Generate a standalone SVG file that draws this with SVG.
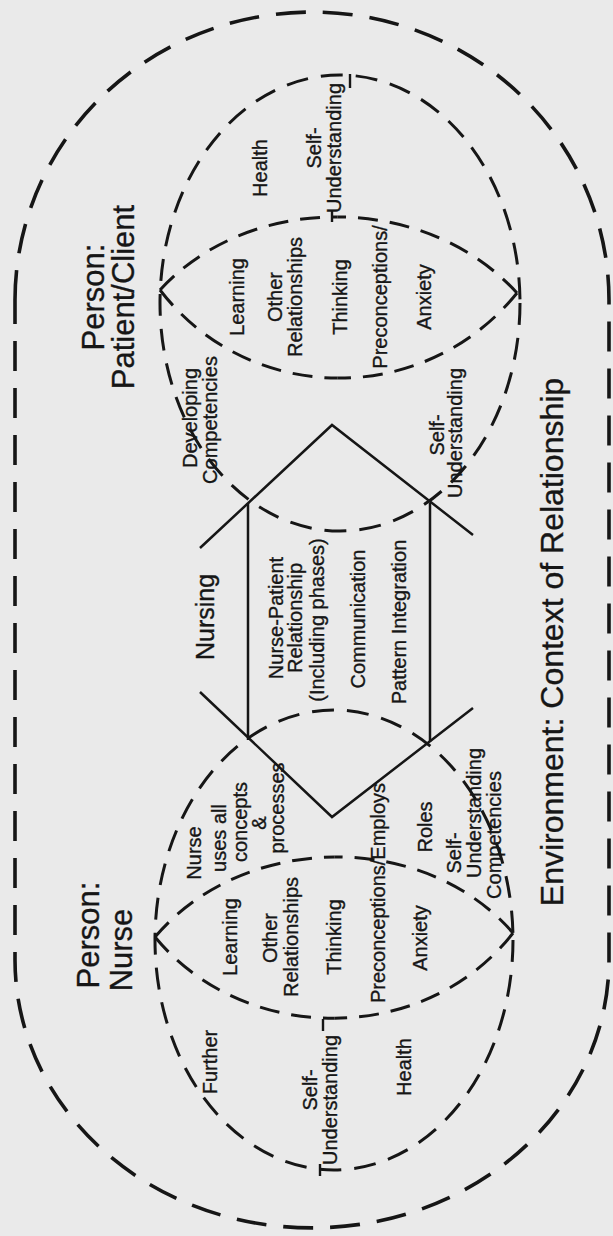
<svg xmlns="http://www.w3.org/2000/svg" width="613" height="1236" viewBox="0 0 613 1236">
<style>
.bg{fill:#eaeaea}
.outer{fill:none;stroke:#161616;stroke-width:3.6;stroke-dasharray:30 17}
.ell{fill:none;stroke:#161616;stroke-width:3;stroke-dasharray:22 13}
.lens{fill:none;stroke:#161616;stroke-width:3;stroke-dasharray:20 12}
.solid{fill:none;stroke:#161616;stroke-width:2.5}
.tick{fill:none;stroke:#161616;stroke-width:2.4}
text{font-family:"Liberation Sans",Arial,sans-serif;fill:#161616;stroke:#161616;stroke-width:0.35;text-anchor:middle}
.s{font-size:20px}
.m{font-size:25px}
.l{font-size:31px}
.xl{font-size:32px}
</style>
<rect class="bg" x="0" y="0" width="613" height="1236"/>

<g id="environment">
<path class="outer" d="M15,300 A297,288 0 0 1 609,300 L609,960 A297,268 0 0 1 15,960 Z"/>
<text class="xl" transform="translate(563,642) rotate(-90)">Environment: Context of Relationship</text>
</g>

<g id="patient">
<ellipse class="ell" cx="340" cy="303" rx="180" ry="228"/>
<path class="lens" d="M160,290 C205,241 271.25,216.5 337.75,216.9"/>
<path class="lens" d="M517,293 C471,242.5 404.25,217.25 337.75,216.9"/>
<path class="lens" d="M160,290 C205,348.5 271.25,377.75 337.75,378.1"/>
<path class="lens" d="M517,293 C471,350 404.25,378.5 337.75,378.1"/>
<line class="tick" x1="350" y1="74" x2="350" y2="88"/>
<line class="tick" x1="332" y1="210" x2="332" y2="222"/>
<text class="l" transform="translate(104,297) rotate(-90)">Person:</text>
<text class="l" transform="translate(134,297) rotate(-90)">Patient/Client</text>
<text class="s" transform="translate(267,168) rotate(-90)">Health</text>
<text class="s" transform="translate(321,148) rotate(-90)">Self-</text>
<text class="s" transform="translate(341,148) rotate(-90)">Understanding</text>
<text class="s" transform="translate(244,297) rotate(-90)">Learning</text>
<text class="s" transform="translate(282,297) rotate(-90)">Other</text>
<text class="s" transform="translate(302,297) rotate(-90)">Relationships</text>
<text class="s" transform="translate(347,297) rotate(-90)">Thinking</text>
<text class="s" transform="translate(387,297) rotate(-90)">Preconceptions/</text>
<text class="s" transform="translate(431,297) rotate(-90)">Anxiety</text>
<text class="s" transform="translate(197,418) rotate(-90)">Developing</text>
<text class="s" transform="translate(217,420) rotate(-90)">Competencies</text>
<text class="s" transform="translate(444,435) rotate(-90)">Self-</text>
<text class="s" transform="translate(462,433) rotate(-90)">Understanding</text>
</g>

<g id="nursing">
<text class="m" transform="translate(214,617) rotate(-90)">Nursing</text>
<text class="s" transform="translate(283,618) rotate(-90)">Nurse-Patient</text>
<text class="s" transform="translate(302,618) rotate(-90)">Relationship</text>
<text class="s" transform="translate(324,620) rotate(-90)">(Including phases)</text>
<text class="s" transform="translate(365,619) rotate(-90)">Communication</text>
<text class="s" transform="translate(406,622) rotate(-90)">Pattern Integration</text>
</g>

<g id="nurse">
<ellipse class="ell" cx="334" cy="940" rx="179" ry="230"/>
<path class="lens" d="M155,937 C200,884 267.5,857.5 334.75,857"/>
<path class="lens" d="M513,933 C469,882 402,856.5 334.75,857"/>
<path class="lens" d="M155,937 C200,991.5 267.5,1018.75 334.75,1018.25"/>
<path class="lens" d="M513,933 C469,989.5 402,1017.75 334.75,1018.25"/>
<line class="tick" x1="320" y1="1164" x2="320" y2="1176"/>
<line class="tick" x1="323" y1="1019" x2="323" y2="1031"/>
<text class="l" transform="translate(99,935) rotate(-90)">Person:</text>
<text class="l" transform="translate(132,950) rotate(-90)">Nurse</text>
<text class="s" transform="translate(201,853) rotate(-90)">Nurse</text>
<text class="s" transform="translate(226,838) rotate(-90)">uses all</text>
<text class="s" transform="translate(247,822) rotate(-90)">concepts</text>
<text class="s" transform="translate(266,823) rotate(-90)">&amp;</text>
<text class="s" transform="translate(284,808) rotate(-90)">processes</text>
<text class="s" transform="translate(237,937) rotate(-90)">Learning</text>
<text class="s" transform="translate(277,938) rotate(-90)">Other</text>
<text class="s" transform="translate(298,937) rotate(-90)">Relationships</text>
<text class="s" transform="translate(341,937) rotate(-90)">Thinking</text>
<text class="s" transform="translate(385,893) rotate(-90)">Preconceptions/Employs</text>
<text class="s" transform="translate(427,938) rotate(-90)">Anxiety</text>
<text class="s" transform="translate(432,827) rotate(-90)">Roles</text>
<text class="s" transform="translate(461,853) rotate(-90)">Self-</text>
<text class="s" transform="translate(481,813) rotate(-90)">Understanding</text>
<text class="s" transform="translate(501,835) rotate(-90)">Competencies</text>
<text class="s" transform="translate(217,1062) rotate(-90)">Further</text>
<text class="s" transform="translate(317,1090) rotate(-90)">Self-</text>
<text class="s" transform="translate(337,1100) rotate(-90)">Understanding</text>
<text class="s" transform="translate(411,1067) rotate(-90)">Health</text>
</g>

<g id="connectors">
<line class="solid" x1="248" y1="503" x2="248" y2="740"/>
<line class="solid" x1="430" y1="503" x2="430" y2="742"/>
<polyline class="solid" points="200,548 332,425 473,535"/>
<polyline class="solid" points="200,692 332,817 473,708"/>
</g>
</svg>
